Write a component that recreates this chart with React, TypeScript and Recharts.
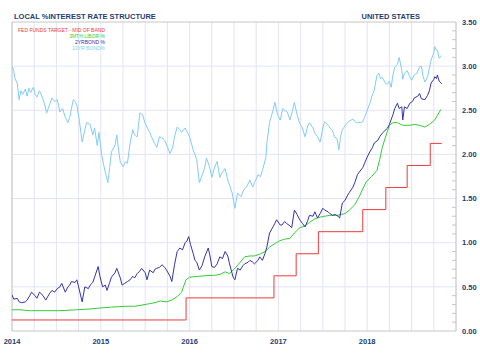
import { LineChart, Line, XAxis, YAxis, CartesianGrid, ReferenceLine } from "recharts";

// [decimal year, rate %]
const fedFunds: [number, number][] = [
  [2014.0, 0.125], [2015.96, 0.375], [2016.95, 0.625], [2017.2, 0.875], [2017.45, 1.125],
  [2017.95, 1.375], [2018.21, 1.625], [2018.45, 1.875], [2018.71, 2.125], [2018.84, 2.125],
];

const libor3m: [number, number][] = [
  [2014.0, 0.24], [2014.09, 0.24], [2014.2, 0.23], [2014.37, 0.23], [2014.54, 0.23], [2014.73, 0.24],
  [2014.88, 0.25], [2014.99, 0.26], [2015.12, 0.27], [2015.27, 0.28], [2015.38, 0.28], [2015.5, 0.3],
  [2015.55, 0.31], [2015.61, 0.32], [2015.67, 0.34], [2015.74, 0.33], [2015.8, 0.35], [2015.86, 0.39],
  [2015.91, 0.44], [2015.93, 0.5], [2015.96, 0.58], [2016.0, 0.61], [2016.11, 0.62], [2016.23, 0.63],
  [2016.28, 0.63], [2016.34, 0.64], [2016.4, 0.67], [2016.45, 0.65], [2016.51, 0.71], [2016.57, 0.78],
  [2016.62, 0.84], [2016.68, 0.85], [2016.73, 0.85], [2016.79, 0.87], [2016.85, 0.9], [2016.9, 0.95],
  [2016.96, 0.99], [2017.01, 1.02], [2017.07, 1.04], [2017.13, 1.05], [2017.18, 1.11], [2017.24, 1.17],
  [2017.3, 1.19], [2017.35, 1.23], [2017.41, 1.27], [2017.47, 1.29], [2017.52, 1.3], [2017.58, 1.31],
  [2017.66, 1.31], [2017.75, 1.33], [2017.8, 1.37], [2017.86, 1.43], [2017.91, 1.52], [2017.95, 1.61],
  [2017.99, 1.69], [2018.05, 1.75], [2018.11, 1.82], [2018.14, 1.94], [2018.17, 2.08], [2018.22, 2.24],
  [2018.25, 2.33], [2018.29, 2.36], [2018.34, 2.36], [2018.4, 2.33], [2018.48, 2.33], [2018.53, 2.34],
  [2018.59, 2.33], [2018.65, 2.31], [2018.7, 2.34], [2018.76, 2.39], [2018.79, 2.44], [2018.83, 2.51],
];

const twoYear: [number, number][] = [
  [2014.0, 0.41], [2014.02, 0.36], [2014.06, 0.37], [2014.08, 0.33], [2014.11, 0.32], [2014.15, 0.33],
  [2014.17, 0.35], [2014.2, 0.4], [2014.22, 0.44], [2014.26, 0.4], [2014.28, 0.37], [2014.31, 0.44],
  [2014.35, 0.4], [2014.38, 0.35], [2014.42, 0.42], [2014.45, 0.46], [2014.48, 0.44], [2014.51, 0.48],
  [2014.54, 0.5], [2014.56, 0.54], [2014.6, 0.44], [2014.63, 0.5], [2014.65, 0.52], [2014.67, 0.56],
  [2014.71, 0.55], [2014.73, 0.58], [2014.75, 0.5], [2014.79, 0.33], [2014.82, 0.5], [2014.86, 0.48],
  [2014.88, 0.52], [2014.91, 0.55], [2014.93, 0.61], [2014.97, 0.73], [2014.99, 0.62], [2015.02, 0.5],
  [2015.05, 0.52], [2015.07, 0.46], [2015.1, 0.55], [2015.12, 0.61], [2015.16, 0.66], [2015.18, 0.71],
  [2015.22, 0.6], [2015.24, 0.52], [2015.27, 0.54], [2015.3, 0.56], [2015.33, 0.58], [2015.36, 0.62],
  [2015.38, 0.6], [2015.41, 0.65], [2015.44, 0.68], [2015.46, 0.71], [2015.5, 0.66], [2015.52, 0.58],
  [2015.55, 0.69], [2015.59, 0.66], [2015.61, 0.7], [2015.63, 0.71], [2015.66, 0.72], [2015.69, 0.75],
  [2015.72, 0.72], [2015.74, 0.69], [2015.78, 0.62], [2015.8, 0.56], [2015.83, 0.75], [2015.86, 0.9],
  [2015.89, 0.94], [2015.92, 0.92], [2015.95, 1.0], [2015.97, 1.02], [2015.99, 1.07], [2016.01, 0.98],
  [2016.04, 0.88], [2016.06, 0.8], [2016.08, 0.78], [2016.11, 0.69], [2016.14, 0.74], [2016.17, 0.84],
  [2016.21, 0.94], [2016.23, 0.85], [2016.25, 0.73], [2016.28, 0.72], [2016.31, 0.76], [2016.34, 0.84],
  [2016.37, 0.82], [2016.4, 0.9], [2016.43, 0.85], [2016.45, 0.76], [2016.49, 0.61], [2016.51, 0.58],
  [2016.54, 0.71], [2016.57, 0.69], [2016.6, 0.74], [2016.62, 0.76], [2016.66, 0.78], [2016.68, 0.8],
  [2016.71, 0.78], [2016.73, 0.76], [2016.77, 0.8], [2016.79, 0.84], [2016.82, 0.8], [2016.85, 0.88],
  [2016.87, 0.95], [2016.9, 1.11], [2016.94, 1.18], [2016.96, 1.22], [2016.98, 1.26], [2017.02, 1.2],
  [2017.04, 1.2], [2017.07, 1.24], [2017.09, 1.22], [2017.13, 1.19], [2017.15, 1.17], [2017.18, 1.37],
  [2017.21, 1.32], [2017.24, 1.26], [2017.27, 1.22], [2017.3, 1.18], [2017.33, 1.25], [2017.35, 1.31],
  [2017.39, 1.3], [2017.41, 1.35], [2017.44, 1.28], [2017.47, 1.33], [2017.5, 1.39], [2017.52, 1.37],
  [2017.56, 1.35], [2017.58, 1.33], [2017.61, 1.31], [2017.64, 1.32], [2017.67, 1.3], [2017.69, 1.28],
  [2017.72, 1.45], [2017.75, 1.48], [2017.78, 1.54], [2017.8, 1.57], [2017.84, 1.63], [2017.86, 1.68],
  [2017.89, 1.77], [2017.91, 1.8], [2017.95, 1.85], [2017.97, 1.9], [2018.0, 1.97], [2018.03, 2.03],
  [2018.06, 2.08], [2018.08, 2.13], [2018.12, 2.16], [2018.14, 2.2], [2018.17, 2.24], [2018.2, 2.27],
  [2018.23, 2.3], [2018.25, 2.34], [2018.29, 2.45], [2018.31, 2.52], [2018.34, 2.58], [2018.36, 2.52],
  [2018.39, 2.54], [2018.4, 2.39], [2018.42, 2.54], [2018.45, 2.52], [2018.48, 2.58], [2018.51, 2.6],
  [2018.53, 2.64], [2018.57, 2.66], [2018.59, 2.69], [2018.61, 2.63], [2018.65, 2.62], [2018.68, 2.67],
  [2018.7, 2.72], [2018.72, 2.81], [2018.75, 2.85], [2018.76, 2.88], [2018.78, 2.86], [2018.79, 2.9],
  [2018.81, 2.83], [2018.84, 2.8],
];

const tenYear: [number, number][] = [
  [2014.0, 3.0], [2014.02, 2.95], [2014.03, 2.87], [2014.06, 2.8], [2014.08, 2.62], [2014.1, 2.72],
  [2014.12, 2.68], [2014.15, 2.74], [2014.17, 2.66], [2014.19, 2.75], [2014.21, 2.7], [2014.24, 2.76],
  [2014.26, 2.68], [2014.28, 2.65], [2014.31, 2.72], [2014.34, 2.65], [2014.37, 2.56], [2014.39, 2.47],
  [2014.43, 2.58], [2014.45, 2.64], [2014.48, 2.6], [2014.51, 2.62], [2014.54, 2.48], [2014.57, 2.52],
  [2014.6, 2.42], [2014.63, 2.36], [2014.65, 2.42], [2014.69, 2.62], [2014.71, 2.6], [2014.73, 2.56],
  [2014.76, 2.37], [2014.79, 2.14], [2014.82, 2.28], [2014.84, 2.36], [2014.88, 2.34], [2014.91, 2.22],
  [2014.93, 2.3], [2014.96, 2.1], [2014.98, 2.25], [2015.01, 1.99], [2015.05, 1.8], [2015.07, 1.72],
  [2015.08, 1.68], [2015.1, 1.85], [2015.12, 2.03], [2015.16, 2.1], [2015.18, 2.22], [2015.2, 2.05],
  [2015.22, 1.91], [2015.25, 1.86], [2015.28, 1.92], [2015.3, 1.9], [2015.33, 2.13], [2015.36, 2.28],
  [2015.38, 2.22], [2015.41, 2.2], [2015.44, 2.47], [2015.47, 2.45], [2015.5, 2.35], [2015.52, 2.31],
  [2015.55, 2.25], [2015.57, 2.2], [2015.61, 2.12], [2015.63, 2.08], [2015.66, 2.2], [2015.7, 2.18],
  [2015.72, 2.16], [2015.76, 2.06], [2015.78, 2.01], [2015.81, 2.08], [2015.83, 2.2], [2015.86, 2.31],
  [2015.89, 2.28], [2015.91, 2.25], [2015.95, 2.3], [2015.97, 2.26], [2016.0, 2.2], [2016.04, 2.05],
  [2016.06, 2.0], [2016.08, 1.94], [2016.11, 1.68], [2016.15, 1.79], [2016.17, 1.85], [2016.19, 1.96],
  [2016.23, 1.84], [2016.25, 1.74], [2016.28, 1.85], [2016.31, 1.92], [2016.34, 1.74], [2016.37, 1.8],
  [2016.4, 1.84], [2016.43, 1.71], [2016.48, 1.56], [2016.51, 1.39], [2016.54, 1.56], [2016.58, 1.52],
  [2016.61, 1.6], [2016.64, 1.63], [2016.68, 1.71], [2016.71, 1.63], [2016.73, 1.68], [2016.77, 1.77],
  [2016.8, 1.75], [2016.82, 1.82], [2016.86, 1.97], [2016.87, 2.13], [2016.9, 2.36], [2016.94, 2.5],
  [2016.96, 2.59], [2016.99, 2.45], [2017.02, 2.39], [2017.05, 2.52], [2017.07, 2.5], [2017.1, 2.48],
  [2017.13, 2.39], [2017.16, 2.5], [2017.18, 2.59], [2017.21, 2.45], [2017.24, 2.35], [2017.27, 2.3],
  [2017.3, 2.2], [2017.33, 2.32], [2017.35, 2.36], [2017.39, 2.3], [2017.41, 2.24], [2017.44, 2.2],
  [2017.47, 2.14], [2017.5, 2.3], [2017.52, 2.37], [2017.56, 2.33], [2017.58, 2.3], [2017.61, 2.27],
  [2017.63, 2.2], [2017.66, 2.18], [2017.68, 2.05], [2017.7, 2.2], [2017.72, 2.28], [2017.77, 2.35],
  [2017.8, 2.38], [2017.84, 2.4], [2017.88, 2.36], [2017.92, 2.36], [2017.95, 2.37], [2017.97, 2.42],
  [2018.0, 2.5], [2018.03, 2.58], [2018.06, 2.68], [2018.08, 2.73], [2018.11, 2.9], [2018.13, 2.92],
  [2018.15, 2.86], [2018.17, 2.87], [2018.21, 2.8], [2018.23, 2.8], [2018.25, 2.83], [2018.27, 2.76],
  [2018.29, 2.9], [2018.31, 2.99], [2018.34, 3.02], [2018.36, 3.1], [2018.39, 2.95], [2018.4, 2.85],
  [2018.42, 2.92], [2018.45, 2.95], [2018.48, 2.88], [2018.5, 2.84], [2018.53, 2.9], [2018.56, 2.92],
  [2018.59, 2.99], [2018.61, 3.0], [2018.63, 2.88], [2018.65, 2.82], [2018.68, 2.88], [2018.7, 2.98],
  [2018.72, 3.07], [2018.75, 3.15], [2018.76, 3.22], [2018.78, 3.18], [2018.79, 3.18], [2018.81, 3.09],
  [2018.84, 3.12],
];

const yearLabels = [2014, 2015, 2016, 2017, 2018];
const quarterTicks = Array.from({ length: 21 }, (_, i) => 2014 + i * 0.25);
const rateTicks = Array.from({ length: 36 }, (_, i) => Math.round(i) / 10);
const gridRates = [0.5, 1, 1.5, 2, 2.5, 3];

const NAVY = "#1f3d73";
const RED = "#ec3b3b";
const GREEN = "#33cc33";
const BLUE = "#3434a8";
const SKY = "#82ccf8";
const GRID = "#e3e3f9";
const FRAME = "#c6c6c6";
const FONT = "'Liberation Sans', Arial, sans-serif";

const toPoints = (rows: [number, number][]) => rows.map(([t, v]) => ({ t, v }));

const RateTick = (props: any) => {
  const { x, y, payload } = props;
  const v = payload.value;
  const major = Math.round(v * 10) % 5 === 0;
  return (
    <g>
      <line x1={x - 6 - (major ? 0 : 4)} x2={x - 6} y1={y} y2={y} stroke={FRAME} strokeWidth={1} />
      {major && (
        <text x={x} y={y} dy="0.355em" textAnchor="start" fontSize={7.5} fontWeight="bold" fill={NAVY} fontFamily={FONT}>
          {v.toFixed(2)}
        </text>
      )}
    </g>
  );
};

const legend = [
  { label: "FED FUNDS TARGET - MID OF BAND", color: RED, y: 32.3 },
  { label: "3MTH LIBOR %", color: GREEN, y: 38 },
  { label: "2YRBOND %", color: BLUE, y: 44.2 },
  { label: "10YR BOND%", color: SKY, y: 50 },
];

export default function App() {
  return (
    <div style={{ position: "absolute", left: 0, top: 0, width: 480, height: 360, background: "#fff" }}>
      <LineChart width={480} height={360} margin={{ top: 22, right: 0, left: 12, bottom: 0 }}>
        <CartesianGrid stroke={GRID} horizontalValues={gridRates} verticalValues={quarterTicks} />
        <XAxis
          type="number"
          dataKey="t"
          domain={[2014, 2019]}
          ticks={quarterTicks}
          interval={0}
          tickLine={false}
          tickSize={0}
          tickMargin={8}
          axisLine={{ stroke: FRAME }}
          tickFormatter={(v: number) => (yearLabels.includes(v) ? String(v) : "")}
          tick={{ fontSize: 7.5, fontWeight: "bold", fill: NAVY, fontFamily: FONT }}
          height={29}
          allowDataOverflow
        />
        <YAxis
          orientation="right"
          type="number"
          domain={[0, 3.5]}
          ticks={rateTicks}
          interval={0}
          width={24}
          tickLine={false}
          tickSize={0}
          tickMargin={6}
          axisLine={{ stroke: FRAME }}
          tick={<RateTick />}
          allowDataOverflow
        />
        <ReferenceLine y={3.5} stroke={FRAME} />
        <ReferenceLine x={2014} stroke={FRAME} />
        <Line data={toPoints(tenYear)} dataKey="v" type="linear" stroke={SKY} strokeWidth={1} dot={false} isAnimationActive={false} />
        <Line data={toPoints(libor3m)} dataKey="v" type="linear" stroke={GREEN} strokeWidth={1} dot={false} isAnimationActive={false} />
        <Line data={toPoints(twoYear)} dataKey="v" type="linear" stroke={BLUE} strokeWidth={1} dot={false} isAnimationActive={false} />
        <Line data={toPoints(fedFunds)} dataKey="v" type="stepAfter" stroke={RED} strokeWidth={1} dot={false} isAnimationActive={false} />
      </LineChart>
      <svg width={480} height={360} style={{ position: "absolute", left: 0, top: 0, pointerEvents: "none" }}>
        <text x={14} y={19} fontSize={7.5} fontWeight="bold" fill={NAVY} fontFamily={FONT}>
          LOCAL %INTEREST RATE STRUCTURE
        </text>
        <text x={420} y={19} textAnchor="end" fontSize={7.5} fontWeight="bold" fill={NAVY} fontFamily={FONT}>
          UNITED STATES
        </text>
        {legend.map((l) => (
          <text key={l.label} x={105} y={l.y} textAnchor="end" fontSize={5} fill={l.color} fontFamily={FONT}>
            {l.label}
          </text>
        ))}
      </svg>
    </div>
  );
}
